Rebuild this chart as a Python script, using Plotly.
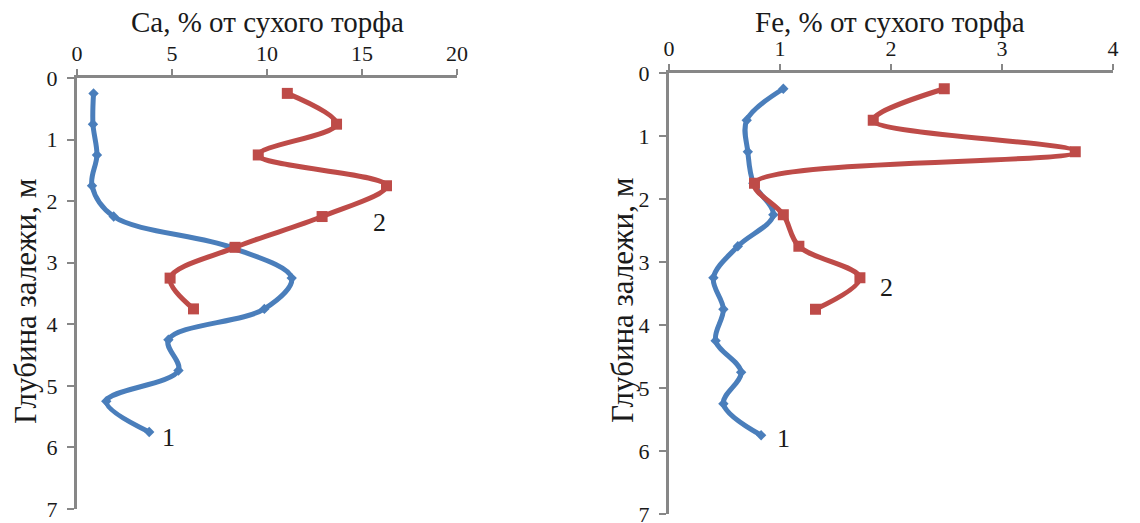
import plotly.graph_objects as go

depth_blue = [0.25, 0.75, 1.25, 1.75, 2.25, 2.75, 3.25, 3.75, 4.25, 4.75, 5.25, 5.75]
depth_red = [0.25, 0.75, 1.25, 1.75, 2.25, 2.75, 3.25, 3.75]

ca_1 = [0.87, 0.84, 1.05, 0.79, 1.93, 8.1, 11.3, 9.86, 4.81, 5.34, 1.54, 3.8]
ca_2 = [11.07, 13.66, 9.54, 16.29, 12.9, 8.32, 4.9, 6.13]

fe_1 = [1.03, 0.70, 0.71, 0.76, 0.94, 0.62, 0.40, 0.49, 0.42, 0.65, 0.49, 0.83]
fe_2 = [2.48, 1.84, 3.66, 0.77, 1.03, 1.17, 1.72, 1.32]

ca_ticks = [0, 5, 10, 15, 20]
fe_ticks = [0, 1, 2, 3, 4]
depth_ticks = [0, 1, 2, 3, 4, 5, 6, 7]

BLUE = "#4A7EBB"
RED = "#BE4B48"
AXIS = "#878787"
FONT = "Liberation Serif, Times New Roman, serif"
TXT = "#1a1a1a"

W, H = 1140, 523

def px(x):
    return x / W

def py(y):
    return 1 - y / H

fig = go.Figure()

def add_series(x, y, xa, ya, color, symbol, msize):
    fig.add_trace(go.Scatter(
        x=x, y=y, xaxis=xa, yaxis=ya, mode="lines+markers",
        line=dict(color=color, width=5, shape="spline", smoothing=1),
        marker=dict(color=color, symbol=symbol, size=msize),
        showlegend=False, hoverinfo="x+y", cliponaxis=False))

add_series(ca_1, depth_blue, "x", "y", BLUE, "diamond", 8)
add_series(ca_2, depth_red, "x", "y", RED, "square", 11)
add_series(fe_1, depth_blue, "x2", "y2", BLUE, "diamond", 8)
add_series(fe_2, depth_red, "x2", "y2", RED, "square", 11)

xcommon = dict(side="top", showgrid=False, zeroline=False, showline=True,
               linecolor=AXIS, linewidth=2.5, ticks="outside", ticklen=6,
               tickcolor=AXIS, tickwidth=1.5, automargin=False,
               ticklabelstandoff=-1, ticklabeloverflow="allow",
               tickfont=dict(family=FONT, size=22, color=TXT))
ycommon = dict(showgrid=False, zeroline=False, showline=True,
               linecolor=AXIS, linewidth=3, ticks="outside", ticklen=7,
               tickcolor=AXIS, tickwidth=1.5, range=[7, 0], automargin=False,
               tickmode="array", tickvals=depth_ticks, ticklabelstandoff=5,
               ticklabeloverflow="allow",
               tickfont=dict(family=FONT, size=22, color=TXT))

fig.update_layout(
    template="none",
    width=W, height=H,
    margin=dict(l=0, r=0, t=0, b=0, autoexpand=False),
    font=dict(family=FONT, color=TXT),
    paper_bgcolor="white", plot_bgcolor="white",
    xaxis=dict(xcommon, domain=[px(77), px(457)], range=[0, 20],
               tickmode="array", tickvals=ca_ticks, anchor="y"),
    yaxis=dict(ycommon, domain=[py(509), py(78)], anchor="x"),
    xaxis2=dict(xcommon, domain=[px(669), px(1113)], range=[0, 4],
                tickmode="array", tickvals=fe_ticks, anchor="y2"),
    yaxis2=dict(ycommon, domain=[py(514), py(73)], anchor="x2"),
)

title_font = dict(family=FONT, size=29, color=TXT)
ytitle_font = dict(family=FONT, size=31, color=TXT)
lab_font = dict(family=FONT, size=26, color=TXT)

def ann(text, x, y, xref, yref, font, angle=0):
    return dict(text=text, x=x, y=y, xref=xref, yref=yref, showarrow=False,
                xanchor="center", yanchor="middle", textangle=angle, font=font)

annotations = [
    ann("Ca, % от сухого торфа", px(267), py(22), "paper", "paper", title_font),
    ann("Fe, % от сухого торфа", px(890), py(22), "paper", "paper", title_font),
    ann("Глубина залежи, м", px(25), py(302), "paper", "paper", ytitle_font, -90),
    ann("Глубина залежи, м", px(622), py(301), "paper", "paper", ytitle_font, -90),
    ann("а", 20.3, 0.44, "x", "y", lab_font),
    ann("2", 15.9, 2.34, "x", "y", lab_font),
    ann("1", 4.8, 5.84, "x", "y", lab_font),
    ann("б", 4.12, 0.56, "x2", "y2", lab_font),
    ann("2", 1.96, 3.4, "x2", "y2", lab_font),
    ann("1", 1.03, 5.8, "x2", "y2", lab_font),
]
fig.update_layout(annotations=annotations)

fig.write_html("out.html", config={"displayModeBar": False},
               post_script="document.body.style.margin='0';document.body.style.overflow='hidden';")
